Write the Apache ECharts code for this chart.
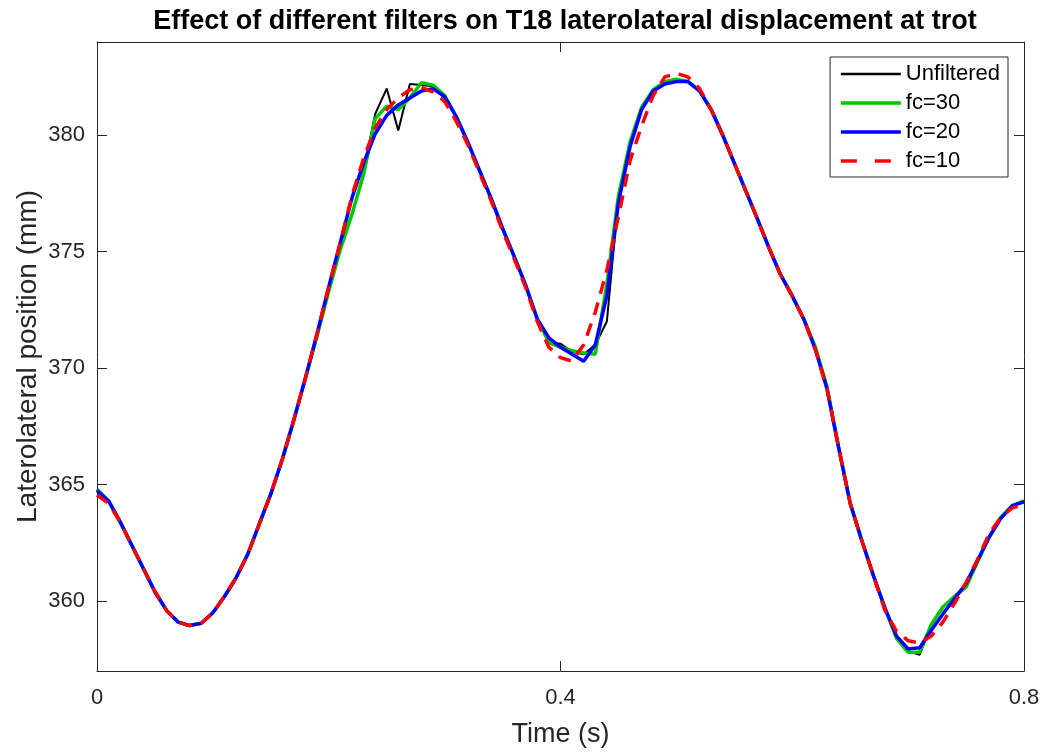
<!DOCTYPE html>
<html>
<head>
<meta charset="utf-8">
<script src="https://cdn.jsdelivr.net/npm/echarts@6/dist/echarts.min.js"></script>
<style>html,body{margin:0;padding:0;background:#fff;overflow:hidden;}#c{width:1045px;height:753px;}</style>
</head>
<body>
<div id="c"></div>
<script>
const time = [0.00,0.01,0.02,0.03,0.04,0.05,0.06,0.07,0.08,0.09,
  0.10,0.11,0.12,0.13,0.14,0.15,0.16,0.17,0.18,0.19,
  0.20,0.21,0.22,0.23,0.24,0.25,0.26,0.27,0.28,0.29,
  0.30,0.31,0.32,0.33,0.34,0.35,0.36,0.37,0.38,0.39,
  0.40,0.41,0.42,0.43,0.44,0.45,0.46,0.47,0.48,0.49,
  0.50,0.51,0.52,0.53,0.54,0.55,0.56,0.57,0.58,0.59,
  0.60,0.61,0.62,0.63,0.64,0.65,0.66,0.67,0.68,0.69,
  0.70,0.71,0.72,0.73,0.74,0.75,0.76,0.77,0.78,0.79,0.80];

const fc20 = [364.75,364.3,363.4,362.4,361.4,360.4,359.6,359.1,358.95,359.05,
  359.5,360.2,361.0,362.0,363.3,364.6,366.1,367.8,369.6,371.5,
  373.5,375.4,377.3,378.8,380.05,380.85,381.3,381.6,381.9,382.0,
  381.65,380.8,379.7,378.5,377.3,376.0,374.8,373.55,372.1,371.3,
  370.9,370.6,370.3,371.0,373.1,377.1,379.5,381.1,381.9,382.2,
  382.3,382.3,381.9,381.1,380.0,378.8,377.6,376.4,375.15,374.0,
  373.1,372.1,370.8,369.1,366.6,364.2,362.6,361.1,359.7,358.5,
  357.95,358.0,358.75,359.45,360.1,360.75,361.75,362.75,363.55,364.1,364.26];

const fc30 = [364.8,364.3,363.4,362.4,361.4,360.4,359.6,359.1,358.95,359.05,
  359.5,360.2,361.0,362.0,363.3,364.6,366.1,367.8,369.6,371.4,
  373.3,375.1,376.6,378.3,380.7,381.25,381.1,381.6,382.25,382.15,
  381.7,380.8,379.7,378.5,377.3,376.0,374.8,373.55,372.1,371.1,
  370.9,370.75,370.65,370.6,373.6,377.4,379.7,381.2,381.95,382.3,
  382.4,382.3,381.9,381.1,380.0,378.8,377.6,376.4,375.15,374.0,
  373.1,372.1,370.9,369.2,366.6,364.2,362.6,361.1,359.7,358.4,
  357.8,357.8,359.0,359.75,360.2,360.6,361.7,362.75,363.6,364.1,364.3];

const unfiltered = [364.8,364.3,363.4,362.4,361.4,360.4,359.6,359.1,358.95,359.05,
  359.5,360.2,361.0,362.0,363.3,364.6,366.1,367.8,369.6,371.4,
  373.3,375.1,376.6,378.4,380.9,382.0,380.2,382.2,382.15,382.1,
  381.7,380.8,379.7,378.5,377.3,376.0,374.8,373.55,372.1,371.1,
  371.05,370.7,370.6,371.0,372.0,377.3,379.6,381.2,381.95,382.3,
  382.4,382.3,381.9,381.1,380.0,378.8,377.6,376.4,375.15,374.0,
  373.1,372.1,370.9,369.2,366.6,364.2,362.6,361.1,359.7,358.4,
  357.85,357.7,359.0,359.75,360.2,360.6,361.7,362.75,363.6,364.1,364.3];

const fc10 = [364.55,364.2,363.4,362.4,361.4,360.4,359.6,359.1,358.95,359.05,
  359.5,360.2,361.0,362.0,363.3,364.6,366.1,367.8,369.6,371.5,
  373.5,375.4,377.4,379.0,380.3,381.1,381.6,381.95,382.05,381.85,
  381.45,380.6,379.6,378.4,377.2,375.9,374.7,373.45,372.0,370.9,
  370.45,370.3,371.0,372.4,374.2,376.5,378.9,380.4,381.7,382.5,
  382.65,382.5,382.0,381.1,380.0,378.8,377.6,376.4,375.15,374.0,
  373.1,372.1,370.8,369.1,366.6,364.2,362.6,361.1,359.6,358.7,
  358.3,358.2,358.5,359.1,359.9,360.8,361.8,362.9,363.6,364.0,364.15];

const seriesNames = ['Unfiltered', 'fc=30', 'fc=20', 'fc=10'];
const yTicks = [360, 365, 370, 375, 380];
const xTicks = [0, 0.4, 0.8];

function pairs(vals) { return time.map((t, i) => [t, vals[i]]); }

const axisCol = '#262626';
const fontFam = 'Liberation Sans, Arial, sans-serif';

const chart = echarts.init(document.getElementById('c'), null, {renderer: 'canvas'});
chart.setOption({
  animation: false,
  backgroundColor: '#ffffff',
  title: {
    text: 'Effect of different filters on T18 laterolateral displacement at trot',
    left: 560, top: 3, textAlign: 'center',
    textStyle: {fontFamily: fontFam, fontSize: 27, fontWeight: 'bold', color: '#000'}
  },
  grid: {left: 97, top: 42, width: 927, height: 633, containLabel: false},
  legend: {
    orient: 'vertical', right: 37, top: 57,
    data: [
      {name: seriesNames[0], lineStyle: {width: 2.5}},
      {name: seriesNames[1], lineStyle: {width: 3.5}},
      {name: seriesNames[2], lineStyle: {width: 3.5}},
      {name: seriesNames[3], lineStyle: {width: 3.5, type: [16, 18]}}
    ],
    itemWidth: 60, itemHeight: 8, itemGap: 7,
    padding: [6, 8, 5, 9],
    itemStyle: {opacity: 0},
    borderColor: axisCol, borderWidth: 1, backgroundColor: '#fff',
    textStyle: {fontFamily: fontFam, fontSize: 22, color: '#000'}
  },
  xAxis: [{
    type: 'value', min: 0, max: 0.8, interval: 0.4,
    name: 'Time (s)', nameLocation: 'middle', nameGap: 50, nameMoveOverlap: false,
    nameTextStyle: {fontFamily: fontFam, fontSize: 27, color: axisCol},
    axisLine: {show: true, onZero: false, lineStyle: {color: axisCol, width: 1}},
    axisTick: {show: true, inside: true, length: 10, lineStyle: {color: axisCol}, customValues: xTicks},
    axisLabel: {fontFamily: fontFam, fontSize: 22, color: axisCol, margin: 16, customValues: xTicks,
      formatter: v => (v === 0 ? '0' : String(v))},
    splitLine: {show: false}
  }, {
    type: 'value', position: 'top', min: 0, max: 0.8, interval: 0.4,
    axisLine: {show: true, onZero: false, lineStyle: {color: axisCol, width: 1}},
    axisTick: {show: true, inside: true, length: 10, lineStyle: {color: axisCol}, customValues: xTicks},
    axisLabel: {show: false}, splitLine: {show: false}
  }],
  yAxis: [{
    type: 'value', min: 357, max: 384,
    name: 'Laterolateral position (mm)', nameLocation: 'middle', nameGap: 55, nameRotate: 90,
    nameMoveOverlap: false,
    nameTextStyle: {fontFamily: fontFam, fontSize: 28, color: axisCol},
    axisLine: {show: true, onZero: false, lineStyle: {color: axisCol, width: 1}},
    axisTick: {show: true, inside: true, length: 10, lineStyle: {color: axisCol}, customValues: yTicks},
    axisLabel: {fontFamily: fontFam, fontSize: 22, color: axisCol, margin: 12, customValues: yTicks},
    splitLine: {show: false}
  }, {
    type: 'value', position: 'right', min: 357, max: 384,
    axisLine: {show: true, onZero: false, lineStyle: {color: axisCol, width: 1}},
    axisTick: {show: true, inside: true, length: 10, lineStyle: {color: axisCol}, customValues: yTicks},
    axisLabel: {show: false}, splitLine: {show: false}
  }],
  series: [
    {name: seriesNames[0], type: 'line', data: pairs(unfiltered), symbol: 'none', showSymbol: false,
     lineStyle: {color: '#000000', width: 2}, itemStyle: {color: '#000000'}, z: 1},
    {name: seriesNames[1], type: 'line', data: pairs(fc30), symbol: 'none', showSymbol: false,
     lineStyle: {color: '#00c800', width: 3.5}, itemStyle: {color: '#00c800'}, z: 2},
    {name: seriesNames[2], type: 'line', data: pairs(fc20), symbol: 'none', showSymbol: false,
     lineStyle: {color: '#0000ff', width: 3.5}, itemStyle: {color: '#0000ff'}, z: 3},
    {name: seriesNames[3], type: 'line', data: pairs(fc10), symbol: 'none', showSymbol: false,
     lineStyle: {color: '#ff0000', width: 3.5, type: [13, 9]}, itemStyle: {color: '#ff0000'}, z: 4}
  ]
});
</script>
</body>
</html>
